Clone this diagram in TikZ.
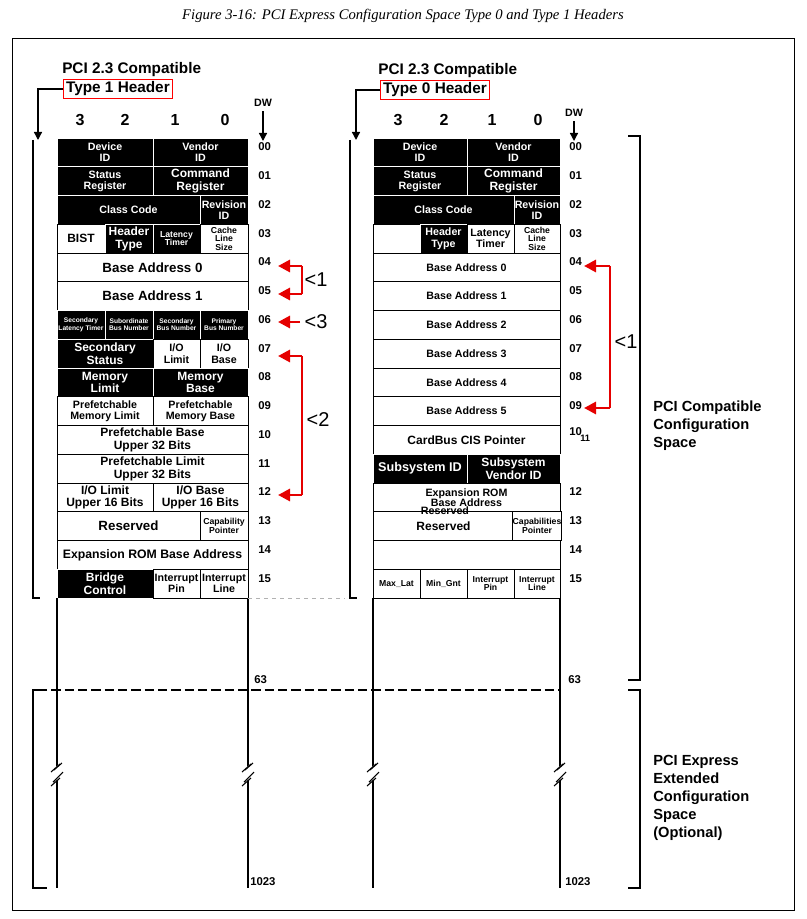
\documentclass[tikz,border=0pt]{standalone}
\usepackage{fontspec}
\setmainfont{Liberation Sans}
\newfontfamily\capfont{Liberation Serif}
\usetikzlibrary{arrows.meta}
\newcommand\cl[6]{\node[#5,minimum width={(#3-#2)*0.75pt},minimum height={28.75*0.75pt}] (#1) at ({(#2+#3)/2},{138+28.75*(#4+0.5)}) {#6};}
\newcommand\dw[2]{\node[dwl] at (#1,{138+28.75*#2+9}) {\ifnum#2<10 0\fi#2};}
\begin{document}
\begin{tikzpicture}[x=0.75pt,y=-0.75pt,
 cellb/.style={draw=white,line width=0.6pt,fill=black,text=white,inner sep=0pt,align=center,font=\bfseries\fontsize{8}{8.5}\selectfont},
 cellw/.style={draw=black,line width=0.6pt,fill=white,text=black,inner sep=0pt,align=center,font=\bfseries\fontsize{8}{8.5}\selectfont},
 tiny/.style={font=\bfseries\fontsize{5}{5.5}\selectfont},
 sm/.style={font=\bfseries\fontsize{6.5}{6.5}\selectfont},
 mid/.style={font=\bfseries\fontsize{9}{9.5}\selectfont},
 big/.style={font=\bfseries\fontsize{10}{10}\selectfont},
 dwl/.style={anchor=west,inner sep=0pt,font=\bfseries\fontsize{8.5}{8.5}\selectfont},
 ttl/.style={anchor=west,inner sep=0pt,font=\bfseries\fontsize{11.5}{12}\selectfont},
 rarr/.style={draw=red!90!black,line width=2.2pt,-{Triangle[length=9pt,width=9pt]}},
 rline/.style={draw=red!90!black,line width=2.2pt},
 brk/.style={line width=1pt},
 lbl/.style={anchor=west,inner sep=0pt,align=left,font=\bfseries\fontsize{11}{13.5}\selectfont}]
\useasboundingbox (0,0) rectangle (806,919);
\node[font=\capfont\itshape\fontsize{11}{12}\selectfont] (cap) at (403,16) {Figure 3-16: PCI Express Configuration Space Type 0 and Type 1 Headers};
\draw[line width=0.6pt] (12,38) rectangle (794,910);
% ---------- left header
\node[ttl] (lt1) at (62,70) {PCI 2.3 Compatible};
\node[ttl,draw=red,line width=0.6pt,inner sep=2pt] (lt2) at (63,89) {Type 1 Header};
\draw[brk,-{Triangle[length=6pt,width=6pt]}] (lt2.west) -- (38,89) -- (38,140);
\draw[brk] (33,140) -- (33,598) -- (40,598);
\foreach \t/\x in {3/80,2/125,1/175,0/225}{\node[font=\bfseries\fontsize{12}{12}\selectfont] at (\x,120) {\t};}
\node[font=\bfseries\fontsize{8}{8}\selectfont] (ldw) at (263,103) {DW};
\draw[brk,-{Triangle[length=6pt,width=6pt]}] (ldw.south) -- (263,141);
% left cells
\cl{l0a}{57}{153}{0}{cellb}{Device\\ID}
\cl{l0b}{153}{248}{0}{cellb}{Vendor\\ID}
\cl{l1a}{57}{153}{1}{cellb}{Status\\Register}
\cl{l1b}{153}{248}{1}{cellb,mid}{Command\\Register}
\cl{l2a}{57}{200}{2}{cellb}{Class Code}
\cl{l2b}{200}{248}{2}{cellb}{Revision\\ID}
\cl{l3a}{57}{105}{3}{cellw,mid}{BIST}
\cl{l3b}{105}{153}{3}{cellb,mid}{Header\\Type}
\cl{l3c}{153}{200}{3}{cellb,sm}{Latency\\Timer}
\cl{l3d}{200}{248}{3}{cellw,sm}{Cache\\Line\\Size}
\cl{l4}{57}{248}{4}{cellw,big}{Base Address 0}
\cl{l5}{57}{248}{5}{cellw,big}{Base Address 1}
\cl{l6a}{57}{105}{6}{cellb,tiny}{Secondary\\Latency Timer}
\cl{l6b}{105}{153}{6}{cellb,tiny}{Subordinate\\Bus Number}
\cl{l6c}{153}{200}{6}{cellb,tiny}{Secondary\\Bus Number}
\cl{l6d}{200}{248}{6}{cellb,tiny}{Primary\\Bus Number}
\cl{l7a}{57}{153}{7}{cellb,mid}{Secondary\\Status}
\cl{l7b}{153}{200}{7}{cellw}{I/O\\Limit}
\cl{l7c}{200}{248}{7}{cellw}{I/O\\Base}
\cl{l8a}{57}{153}{8}{cellb,mid}{Memory\\Limit}
\cl{l8b}{153}{248}{8}{cellb,mid}{Memory\\Base}
\cl{l9a}{57}{153}{9}{cellw}{Prefetchable\\Memory Limit}
\cl{l9b}{153}{248}{9}{cellw}{Prefetchable\\Memory Base}
\cl{l10}{57}{248}{10}{cellw,mid}{Prefetchable Base\\Upper 32 Bits}
\cl{l11}{57}{248}{11}{cellw,mid}{Prefetchable Limit\\Upper 32 Bits}
\cl{l12a}{57}{153}{12}{cellw,mid}{I/O Limit\\Upper 16 Bits}
\cl{l12b}{153}{248}{12}{cellw,mid}{I/O Base\\Upper 16 Bits}
\cl{l13a}{57}{200}{13}{cellw,big}{Reserved}
\cl{l13b}{200}{248}{13}{cellw,sm}{Capability\\Pointer}
\cl{l14}{57}{248}{14}{cellw,font=\bfseries\fontsize{9.2}{9.5}\selectfont}{Expansion ROM Base Address}
\cl{l15a}{57}{153}{15}{cellb,mid}{Bridge\\Control}
\cl{l15b}{153}{200}{15}{cellw}{Interrupt\\Pin}
\cl{l15c}{200}{248}{15}{cellw}{Interrupt\\Line}
\foreach \r in {0,...,15}{\dw{258}{\r}}
\draw[brk] (57,598) -- (57,888) (248,598) -- (248,888);
\draw[line width=0.6pt,gray!60,dashed] (248,598) -- (345,598);
\node[dwl] (l63) at (254,680) {63};
\node[dwl] (l1023) at (250,882) {1023};
% ---------- right header
\node[ttl] (rt1) at (378,71) {PCI 2.3 Compatible};
\node[ttl,draw=red,line width=0.6pt,inner sep=2pt] (rt2) at (380,90) {Type 0 Header};
\draw[brk,-{Triangle[length=6pt,width=6pt]}] (rt2.west) -- (356,90) -- (356,140);
\draw[brk] (350,140) -- (350,598) -- (357,598);
\foreach \t/\x in {3/398,2/444,1/492,0/538}{\node[font=\bfseries\fontsize{12}{12}\selectfont] at (\x,120) {\t};}
\node[font=\bfseries\fontsize{8}{8}\selectfont] (rdw) at (574,113) {DW};
\draw[brk,-{Triangle[length=6pt,width=6pt]}] (rdw.south) -- (574,141);
\cl{r0a}{373}{467}{0}{cellb}{Device\\ID}
\cl{r0b}{467}{560}{0}{cellb}{Vendor\\ID}
\cl{r1a}{373}{467}{1}{cellb}{Status\\Register}
\cl{r1b}{467}{560}{1}{cellb,mid}{Command\\Register}
\cl{r2a}{373}{514}{2}{cellb}{Class Code}
\cl{r2b}{514}{560}{2}{cellb}{Revision\\ID}
\cl{r3a}{373}{420}{3}{cellw}{}
\cl{r3b}{420}{467}{3}{cellb}{Header\\Type}
\cl{r3c}{467}{514}{3}{cellw}{Latency\\Timer}
\cl{r3d}{514}{560}{3}{cellw,sm}{Cache\\Line\\Size}
\node[anchor=north west,inner sep=0pt,font=\bfseries\fontsize{8}{8}\selectfont] (rbist) at (378,214) {BIST};
\foreach \r in {0,...,5}{\pgfmathtruncatemacro\n{\r}\cl{r\the\numexpr\r+4\relax}{373}{560}{\the\numexpr\r+4\relax}{cellw}{Base Address \n}}
\cl{r10}{373}{560}{10}{cellw,mid}{CardBus CIS Pointer}
\cl{r11a}{373}{467}{11}{cellb,font=\bfseries\fontsize{9.5}{9.5}\selectfont}{Subsystem ID}
\cl{r11b}{467}{560}{11}{cellb,mid}{Subsystem\\Vendor ID}
\cl{r12}{373}{560}{12}{cellw,font=\bfseries\fontsize{8}{7.5}\selectfont}{Expansion ROM\\Base Address}
\cl{r13a}{373}{514}{13}{cellw,mid}{Reserved}
\cl{r13b}{514}{560}{13}{cellw,sm}{Capabilities\\Pointer}
\node[inner sep=0pt,font=\bfseries\fontsize{8}{8}\selectfont] (rres) at (445,511) {Reserved};
\cl{r14}{373}{560}{14}{cellw}{}
\cl{r15a}{373}{420}{15}{cellw,sm}{Max\_Lat}
\cl{r15b}{420}{467}{15}{cellw,sm}{Min\_Gnt}
\cl{r15c}{467}{514}{15}{cellw,sm}{Interrupt\\Pin}
\cl{r15d}{514}{560}{15}{cellw,sm}{Interrupt\\Line}
\foreach \r in {0,...,9}{\dw{569}{\r}}
\node[dwl] (r10n) at (569,432) {10};
\node[dwl,font=\bfseries\fontsize{7}{7}\selectfont] (r11n) at (580,438) {11};
\foreach \r in {12,...,15}{\dw{569}{\r}}
\draw[brk] (373,598) -- (373,888) (560,598) -- (560,888);
\node[dwl] (r63) at (568,680) {63};
\node[dwl] (r1023) at (565,882) {1023};
% ---------- lower area
\draw[line width=1.5pt,dash pattern=on 7pt off 3pt] (38,690) -- (560,690);
\foreach \x in {57,248,373,560}{\fill[white] (\x-6,770) -- (\x+6,762) -- (\x+6,776) -- (\x-6,784) -- cycle; \draw[line width=0.8pt] (\x-6,772) -- (\x+3,764) (\x-4,782) -- (\x+6,772) (\x-3,770) -- (\x+5,763) (\x-6,786) -- (\x+3,778);}
\draw[brk] (47,690) -- (33,690) -- (33,888) -- (47,888);
\draw[brk] (628,136) -- (640,136) -- (640,680) -- (628,680);
\draw[brk] (628,690) -- (640,690) -- (640,888) -- (628,888);
\node[lbl] (lab1) at (653,426) {PCI Compatible\\Configuration\\Space};
\node[lbl] (lab2) at (653,798) {PCI Express\\Extended\\Configuration\\Space\\(Optional)};
% ---------- red arrows
\coordinate (la) at (302,266); \coordinate (lb) at (302,294);
\draw[rline] (la) -- (lb);
\draw[rarr] (la) -- (278,266); \draw[rarr] (lb) -- (278,294);
\node[font=\fontsize{15}{15}\selectfont] (n1) at (316,280) {<1};
\draw[rarr] (300,322) -- (278,322);
\node[font=\fontsize{15}{15}\selectfont] (n3) at (316,322) {<3};
\coordinate (lc) at (302,356); \coordinate (ld) at (302,495);
\draw[rline] (lc) -- (ld);
\draw[rarr] (lc) -- (278,356); \draw[rarr] (ld) -- (278,495);
\node[font=\fontsize{15}{15}\selectfont] (n2) at (318,420) {<2};
\coordinate (ra) at (610,266); \coordinate (rb) at (610,408);
\draw[rline] (ra) -- (rb);
\draw[rarr] (ra) -- (584,266); \draw[rarr] (rb) -- (584,408);
\node[font=\fontsize{15}{15}\selectfont] (n4) at (626,342) {<1};
\end{tikzpicture}
\end{document}
